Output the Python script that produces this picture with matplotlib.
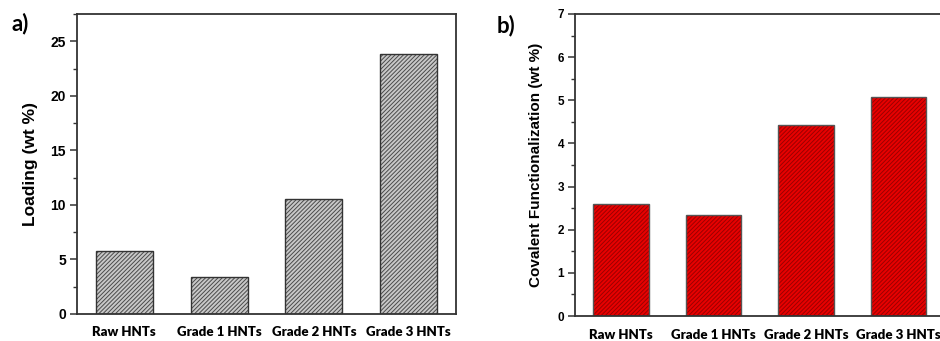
import matplotlib
matplotlib.use("Agg")
import matplotlib.pyplot as plt
from matplotlib.ticker import MultipleLocator

categories = ["Raw HNTs", "Grade 1 HNTs", "Grade 2 HNTs", "Grade 3 HNTs"]
loading = [5.8, 3.4, 10.5, 23.8]
covalent = [2.6, 2.33, 4.43, 5.08]

plt.rcParams['hatch.linewidth'] = 0.7

fig = plt.figure(figsize=(9.40, 3.41), dpi=100)
ax1 = fig.add_axes([0.0819, 0.0792, 0.4032, 0.8798])
ax2 = fig.add_axes([0.6117, 0.0733, 0.3933, 0.8857])

spine_col = "#333333"

def style(ax, ymax, major, minor, ysize):
    x = range(len(categories))
    ax.set_xlim(-0.5, 3.5)
    ax.set_ylim(0, ymax)
    ax.set_xticks(list(x))
    ax.set_xticklabels(categories, fontfamily="Lato", fontweight="heavy", fontsize=9.5)
    ax.tick_params(axis="x", length=0, pad=9)
    ax.yaxis.set_major_locator(MultipleLocator(major))
    ax.yaxis.set_minor_locator(MultipleLocator(minor))
    ax.tick_params(axis="y", which="major", direction="out", length=5, width=1.1, color=spine_col, pad=3)
    ax.tick_params(axis="y", which="minor", direction="out", length=3, width=1.0, color=spine_col)
    for lab in ax.get_yticklabels():
        lab.set_fontfamily("Liberation Sans")
        lab.set_fontweight("bold")
        lab.set_fontsize(ysize)
    for s in ax.spines.values():
        s.set_color(spine_col)
        s.set_linewidth(1.3)

b1 = ax1.bar(range(len(categories)), loading, width=0.6, color="#c8c8c8",
             edgecolor="#333333", hatch="////////", linewidth=1.0)
for p in b1:
    p._hatch_color = matplotlib.colors.to_rgba("#4a4a4a")
style(ax1, 27.5, 5, 2.5, 10)
ax1.set_ylabel("Loading (wt %)", fontfamily="Liberation Sans", fontweight="bold", fontsize=12.5, labelpad=9)

b2 = ax2.bar(range(len(categories)), covalent, width=0.6, color="#e80000",
             edgecolor="#555555", hatch="////////", linewidth=1.0)
for p in b2:
    p._hatch_color = matplotlib.colors.to_rgba("#9a0000")
style(ax2, 7, 1, 0.5, 8.5)
ax2.spines["right"].set_visible(False)
ax2.set_ylabel("Covalent Functionalization (wt %)", fontfamily="Liberation Sans", fontweight="bold", fontsize=11, labelpad=10)

fig.text(0.012, 0.93, "a)", fontfamily="Lato", fontweight="bold", fontsize=16, va="center")
fig.text(0.528, 0.925, "b)", fontfamily="Lato", fontweight="bold", fontsize=16, va="center")

fig.savefig("out.png", dpi=100)
